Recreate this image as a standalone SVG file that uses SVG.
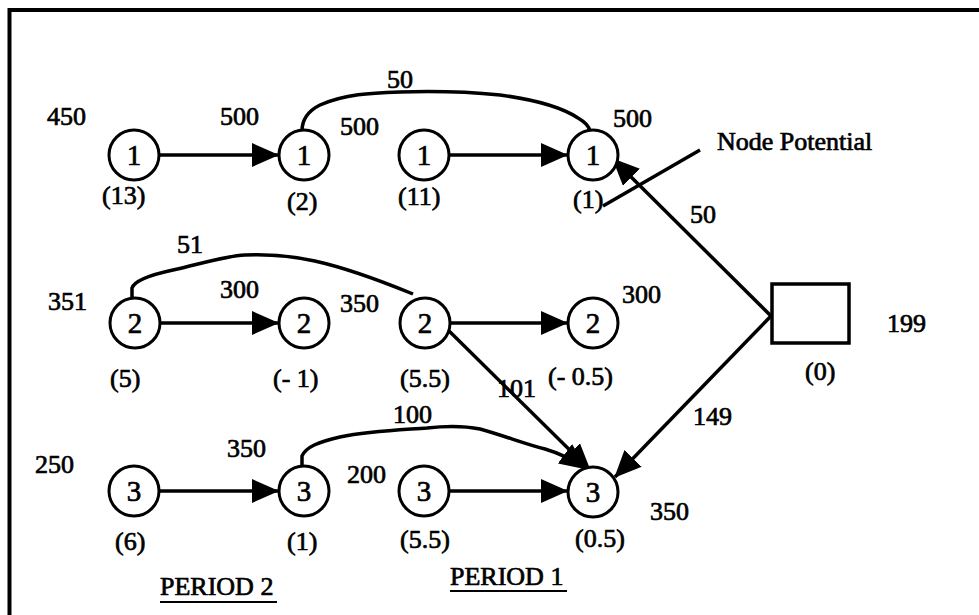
<svg xmlns="http://www.w3.org/2000/svg" width="979" height="615" viewBox="0 0 979 615">
<defs>
<marker id="ah" viewBox="0 0 27 24" refX="26" refY="12" markerWidth="27" markerHeight="24" markerUnits="userSpaceOnUse" orient="auto">
<path d="M0,0 L27,12 L0,24 Z" fill="#000"/>
</marker>
<style>
text{font-family:"Liberation Serif","Times New Roman",serif;font-size:26px;fill:#000;stroke:#000;stroke-width:0.7}
.n{font-size:29px;text-anchor:middle}
.node circle{fill:#fff;stroke:#000;stroke-width:3}
.node rect{fill:#fff;stroke:#000;stroke-width:3.5}
.e{fill:none;stroke:#000;stroke-width:3.5}
.a{marker-end:url(#ah)}
.u{stroke:#000;stroke-width:2}
</style>
</defs>
<rect width="979" height="615" fill="#fff"/>
<path d="M9.5,615 L9.5,10 L979,10" fill="none" stroke="#000" stroke-width="4"/>

<g id="connectors">
<line class="e a" x1="159" y1="155" x2="278" y2="155"/>
<line class="e a" x1="449" y1="155" x2="567" y2="155"/>
<line class="e a" x1="160" y1="323" x2="278" y2="323"/>
<line class="e a" x1="450" y1="323" x2="567" y2="323"/>
<line class="e a" x1="159" y1="491" x2="278" y2="491"/>
<line class="e a" x1="449" y1="491" x2="567" y2="491"/>
<path class="e" d="M302,131 C302,118 310,110 320,105 C345,94 370,93 400,92 C430,91 470,92 500,95 C530,99 560,106 578,118 C585,122 589,126 590,131"/>
<path class="e" d="M132,298 L132,288 C134,282 145,276 173,270 C200,264 225,256 245,255 C290,253 330,260 413,294"/>
<path class="e a" d="M302,466 L302,456 C306,447 318,442 340,437 C370,431 400,430 427,428 C445,426 465,426 480,429 C505,436 525,444 545,449 C562,454 575,461 586,469"/>
<line class="e a" x1="443" y1="325" x2="590" y2="470"/>
<line class="e a" x1="771" y1="316" x2="613" y2="159"/>
<line class="e a" x1="771" y1="316" x2="615" y2="477"/>
<line class="e" x1="700" y1="150" x2="603" y2="206"/>
</g>

<g id="n1a" class="node"><circle cx="134" cy="155" r="25"/><text class="n" x="134" y="165">1</text></g>
<g id="n1b" class="node"><circle cx="304" cy="155" r="25"/><text class="n" x="304" y="165">1</text></g>
<g id="n1c" class="node"><circle cx="424" cy="155" r="25"/><text class="n" x="424" y="165">1</text></g>
<g id="n1d" class="node"><circle cx="593" cy="155" r="25"/><text class="n" x="593" y="165">1</text></g>
<g id="n2a" class="node"><circle cx="135" cy="323" r="25"/><text class="n" x="135" y="333">2</text></g>
<g id="n2b" class="node"><circle cx="304" cy="323" r="25"/><text class="n" x="304" y="333">2</text></g>
<g id="n2c" class="node"><circle cx="425" cy="323" r="25"/><text class="n" x="425" y="333">2</text></g>
<g id="n2d" class="node"><circle cx="593" cy="323" r="25"/><text class="n" x="593" y="333">2</text></g>
<g id="n3a" class="node"><circle cx="134" cy="491" r="25"/><text class="n" x="134" y="501">3</text></g>
<g id="n3b" class="node"><circle cx="304" cy="491" r="25"/><text class="n" x="304" y="501">3</text></g>
<g id="n3c" class="node"><circle cx="424" cy="491" r="25"/><text class="n" x="424" y="501">3</text></g>
<g id="n3d" class="node"><circle cx="593" cy="492" r="25"/><text class="n" x="593" y="502">3</text></g>
<g id="sink" class="node"><rect x="772" y="284" width="77" height="59"/></g>

<g id="labels">
<text x="47" y="125">450</text>
<text x="220" y="125">500</text>
<text x="387" y="88">50</text>
<text x="340" y="135">500</text>
<text x="613" y="127">500</text>
<text x="717" y="150">Node Potential</text>
<text x="102" y="204">(13)</text>
<text x="287" y="210">(2)</text>
<text x="398" y="205">(11)</text>
<text x="573" y="208">(1)</text>
<text x="690" y="223">50</text>
<text x="177" y="253">51</text>
<text x="48" y="310">351</text>
<text x="220" y="298">300</text>
<text x="340" y="312">350</text>
<text x="622" y="303">300</text>
<text x="887" y="332">199</text>
<text x="110" y="387">(5)</text>
<text x="273" y="387">(- 1)</text>
<text x="400" y="387">(5.5)</text>
<text x="548" y="385">(- 0.5)</text>
<text x="805" y="380">(0)</text>
<text x="497" y="397">101</text>
<text x="693" y="425">149</text>
<text x="393" y="423">100</text>
<text x="35" y="473">250</text>
<text x="227" y="457">350</text>
<text x="347" y="483">200</text>
<text x="650" y="520">350</text>
<text x="115" y="550">(6)</text>
<text x="287" y="550">(1)</text>
<text x="400" y="548">(5.5)</text>
<text x="575" y="547">(0.5)</text>
<text x="160" y="595">PERIOD 2</text>
<line class="u" x1="160" y1="602" x2="277" y2="602"/>
<text x="450" y="585">PERIOD 1</text>
<line class="u" x1="450" y1="591" x2="567" y2="591"/>
</g>
</svg>
